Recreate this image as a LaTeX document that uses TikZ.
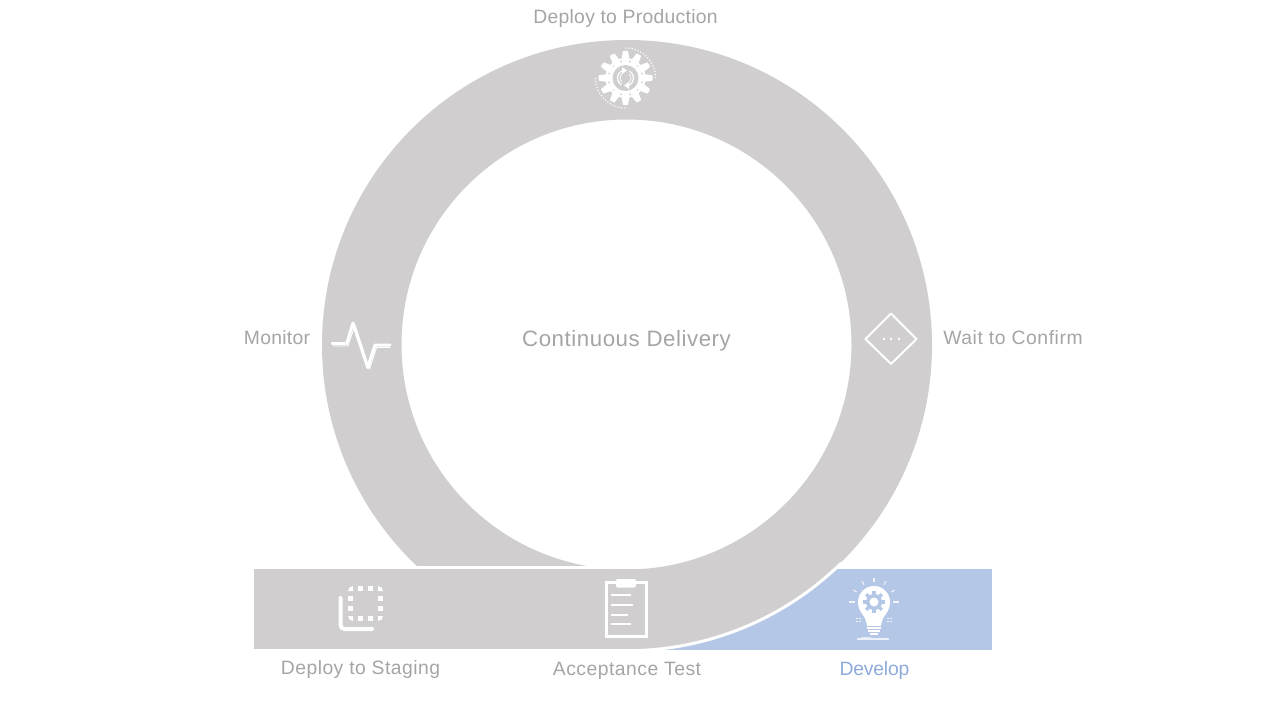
\documentclass[tikz,border=0pt]{standalone}
\usepackage{fontspec}
\setmainfont{Liberation Sans}
\definecolor{ringgray}{HTML}{D0CECE}
\definecolor{bluefill}{HTML}{B4C7E7}
\definecolor{labelgray}{HTML}{A5A5A5}
\definecolor{labelblue}{HTML}{8FAADC}
\tikzset{
  lbl/.style={font=\fontsize{14.5}{16}\selectfont,text=labelgray,inner sep=0pt,anchor=base},
  iconline/.style={draw=white,line width=2.25pt,line cap=round,line join=round},
}
\newcommand{\lsp}[2]{{\addfontfeatures{LetterSpace=#1}#2}}
\begin{document}
\begin{tikzpicture}[x=0.75pt,y=-0.75pt]
\useasboundingbox (0,0) rectangle (1280,720);
\fill[white] (0,0) rectangle (1280,720);
% blue band
\fill[bluefill] (640,569) rectangle (992,649.5);
% ring
\fill[ringgray,even odd rule] (627,345) circle[radius=305] (626.5,344.5) circle[radius=225];
% white outer edge
\draw[white,line width=2.25pt] (627,345) ++(45.5:305.7) arc[start angle=45.5,end angle=92,radius=305.7];
% separation and gray band
\fill[white] (380,566) rectangle (610,569);
\fill[white] (250,569.5) rectangle (420,655);
\fill[white] (420,649) rectangle (640,655);
\fill[ringgray] (254,569) rectangle (640,649);
% gear icon
\begin{scope}[shift={(625.5,78)}]
  \fill[white] (0,0) circle[radius=20];
  \foreach \a in {0,30,...,330}{
    \fill[white,rotate=\a,rounded corners=.5pt] (-4,-18) -- (-2.6,-27) -- (2.6,-27) -- (4,-18) -- cycle;
  }
  \foreach \a in {15,45,...,345}{
    \fill[ringgray,rotate=\a] (0,-17) circle[radius=1];
  }
  \fill[ringgray] (0,0) circle[radius=13];
  \draw[white,line width=.9pt] (120:8) arc[start angle=120,end angle=255,radius=8];
  \draw[white,line width=.6pt] (130:5.5) arc[start angle=130,end angle=240,radius=5.5];
  \fill[white] (1.5,-7.5) -- (-3.5,-11) -- (-3.5,-4) -- cycle;
  \draw[white,line width=.9pt] (300:8) arc[start angle=300,end angle=435,radius=8];
  \draw[white,line width=.6pt] (310:5.5) arc[start angle=310,end angle=420,radius=5.5];
  \fill[white] (-1.5,7.5) -- (3.5,11) -- (3.5,4) -- cycle;
  \draw[white,line width=.9pt,dash pattern=on .9pt off 1.4pt] (0,-30) arc[start angle=-90,end angle=0,radius=30];
  \draw[white,line width=.9pt,dash pattern=on .9pt off 1.4pt] (0,30) arc[start angle=90,end angle=180,radius=30];
\end{scope}
% monitor icon
\draw[white,line width=.7pt,line join=round] (333,346) -- (348,346) -- (355,325) -- (369.5,369) -- (376.5,347.5) -- (390,347.5);
\path[iconline] (332,343.5) -- (346.7,343.5) -- (353,323) -- (367.7,367.5) -- (375,345) -- (390,345);
% diamond icon
\path[draw=white,line width=1.5pt,line join=round] (865.5,339) -- (891,313.5) -- (916.5,339) -- (891,364) -- cycle;
\foreach \x in {883.5,891,899}{\fill[white] (\x-1,338) rectangle (\x+1,340);}
% staging icon
\draw[white,line width=3pt,line cap=round] (340.5,598) -- (340.5,625) arc[start angle=180,end angle=90,radius=4] -- (372,629);
\foreach \x in {360,370}{
  \fill[white] (\x-2.5,586) rectangle (\x+2.5,591);
  \fill[white] (\x-2.5,616) rectangle (\x+2.5,621);
}
\foreach \y in {598,608}{
  \fill[white] (348,\y-2.5) rectangle (353,\y+2.5);
  \fill[white] (378,\y-2.5) rectangle (383,\y+2.5);
}
\fill[white] (348,591) arc[start angle=180,end angle=270,radius=5] -- (353,591) -- cycle;
\fill[white] (378,586) arc[start angle=270,end angle=360,radius=5] -- (378,591) -- cycle;
\fill[white] (353,621) arc[start angle=90,end angle=180,radius=5] -- (353,616) -- cycle;
\fill[white] (383,616) arc[start angle=0,end angle=90,radius=5] -- (378,616) -- cycle;
% clipboard icon
\draw[white,line width=2.25pt] (606,582.5) rectangle (646,636.5);
\fill[white,rounded corners=1pt] (616,579) rectangle (636,587.5);
\foreach \yy/\xe in {595/631,605/633,614.5/628,624/631}{
  \draw[white,line width=1.5pt] (610.5,\yy) -- (\xe,\yy);
}
% bulb icon
\begin{scope}[shift={(874,602)}]
  \fill[white] (0,0) circle[radius=16];
  \fill[white] (-15.5,5) .. controls (-14,11) and (-8,14) .. (-7,24) -- (7,24) .. controls (8,14) and (14,11) .. (15.5,5) -- cycle;
  \fill[bluefill] (0,0) circle[radius=8];
  \foreach \a in {0,45,...,315}{\fill[bluefill,rotate=\a] (-1.7,-6) rectangle (1.7,-11);}
  \fill[white] (0,0) circle[radius=4.5];
  \foreach \a/\ra/\rb in {90/20/24,60/20/24,120/20/24,30/20/24,150/20/24,0/19/25,180/19/25}{
    \draw[white,opacity=.8,line width=.8pt] (-\a:\ra) -- (-\a:\rb);
  }
  \foreach \dx in {-17,-14,14,17}{\foreach \dy in {17.5,20.5}{\fill[white,opacity=.8] (\dx-.7,\dy-1.5) rectangle (\dx+.7,\dy-.2);}}
  \fill[bluefill] (-7.5,24) rectangle (7.5,24.6);
  \fill[white] (-7,25) rectangle (7,26.5);
  \fill[white] (-6,28) rectangle (6,29.5);
  \fill[white] (-4,31) rectangle (4,33);
  \fill[white,opacity=.75] (-17,36) rectangle (15,37.5);
  \fill[white,opacity=.6] (-13,34.5) rectangle (-3,35.5);
\end{scope}
% labels
\node[lbl] (prod) at (625.5,23.5) {\lsp{1.5}{Deploy to Production}};
\node[lbl] (mon) at (277,344.5) {\lsp{1.5}{Monitor}};
\node[lbl] (wait) at (1013,344.5) {\lsp{3}{Wait to Confirm}};
\node[lbl,font=\fontsize{16.7}{18}\selectfont] (cd) at (626.5,346) {\lsp{2.5}{Continuous Delivery}};
\node[lbl] (stag) at (360.5,674.5) {\lsp{2.4}{Deploy to Staging}};
\node[lbl] (acc) at (627,675.5) {\lsp{2.5}{Acceptance Test}};
\node[lbl,text=labelblue] (dev) at (874.5,675) {\lsp{-1}{Develop}};
\end{tikzpicture}
\end{document}
